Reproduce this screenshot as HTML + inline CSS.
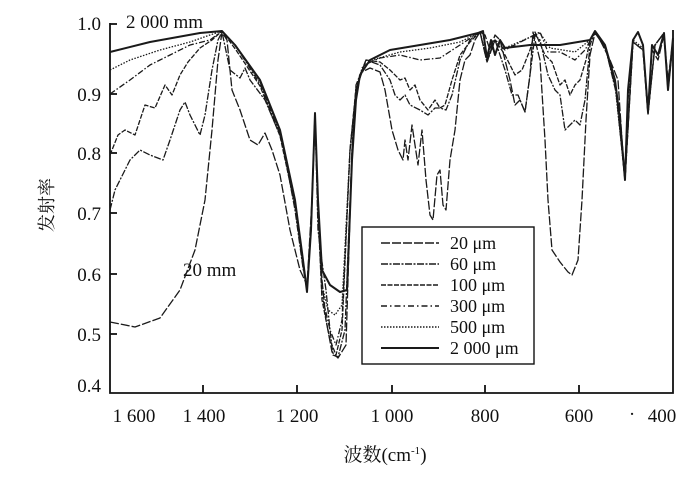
<!DOCTYPE html>
<html><head><meta charset="utf-8"><style>
html,body{margin:0;padding:0;background:#fff;}
svg{display:block;}
text{font-family:"Liberation Serif","Noto Serif CJK SC",serif;fill:#111;}
</style></head><body>
<svg width="700" height="481" viewBox="0 0 700 481" xmlns="http://www.w3.org/2000/svg">
<g stroke="#111" stroke-width="1.8" fill="none">
<polyline points="110,23 110,393 673,393 673,30"/>
<line x1="110" y1="24" x2="117" y2="24"/><line x1="110" y1="94" x2="117" y2="94"/>
<line x1="110" y1="153" x2="117" y2="153"/><line x1="110" y1="213" x2="117" y2="213"/>
<line x1="110" y1="274" x2="117" y2="274"/><line x1="110" y1="334" x2="117" y2="334"/>
<line x1="203" y1="393" x2="203" y2="385"/><line x1="297" y1="393" x2="297" y2="385"/>
<line x1="392" y1="393" x2="392" y2="385"/><line x1="485" y1="393" x2="485" y2="385"/>
<line x1="579" y1="393" x2="579" y2="385"/>
</g>
<g font-size="19" text-anchor="end">
<text x="101" y="30">1.0</text><text x="101" y="101">0.9</text><text x="101" y="160">0.8</text>
<text x="101" y="220">0.7</text><text x="101" y="281">0.6</text><text x="101" y="341">0.5</text>
<text x="101" y="392">0.4</text>
</g>
<g font-size="19" text-anchor="middle">
<text x="134" y="422">1 600</text><text x="204" y="422">1 400</text><text x="297" y="422">1 200</text>
<text x="392" y="422">1 000</text><text x="485" y="422">800</text><text x="579" y="422">600</text>
<text x="662" y="422">400</text><text x="632" y="420">·</text>
</g>
<text x="126" y="28" font-size="19">2 000 mm</text>
<text x="183" y="276" font-size="19">20 mm</text>
<text x="385" y="461" font-size="19" text-anchor="middle">波数(cm<tspan dy="-7" font-size="11">-1</tspan><tspan dy="7">)</tspan></text>
<text transform="translate(53,205) rotate(-90)" font-size="18" text-anchor="middle" font-family="Noto Sans CJK SC, sans-serif">发射率</text>

<g fill="none" stroke="#1a1a1a" stroke-width="1.3" stroke-linejoin="round">
<polyline stroke-width="2" points="110,52 150,42 200,33 222,31 235,45 260,80 280,130 295,200 303,260 307,292 311,230 315,113 318,200 322,270 330,285 340,292 347,290 352,160 356,100 360,75 370,60 390,50 450,40 478,33 483,31 487,58 491,40 495,55 500,40 505,48 530,45 560,45 590,40 595,31 605,45 615,80 620,120 625,180 628,90 633,40 638,32 643,45 648,112 652,45 658,55 664,33 668,90 673,38"/>
<polyline stroke-dasharray="1.5,1.5" points="110,70 130,60 160,50 190,42 210,35 222,31 236,46 260,82 280,132 295,202 303,262 307,288 311,230 315,115 318,205 322,285 328,310 335,315 342,305 350,150 356,92 362,68 372,60 400,52 430,48 460,42 480,32 487,60 495,40 505,48 540,33 550,48 575,52 590,40 595,32 605,47 615,85 625,178 633,40 643,48 648,112 655,45 664,33 668,90 673,40"/>
<polyline stroke-dasharray="6,2,1.5,2" points="110,94 130,80 150,65 170,55 190,45 210,40 222,31 237,48 260,84 280,134 295,204 303,264 307,290 311,230 315,114 318,210 322,295 330,330 336,345 342,320 350,150 356,90 364,65 380,58 400,55 420,60 440,58 460,45 480,32 487,62 495,40 505,50 540,32 548,52 560,52 575,60 585,50 595,32 606,48 616,88 625,180 633,42 643,50 648,114 655,45 664,33 668,90 673,40"/>
<polyline stroke-dasharray="5,1.5" points="110,155 118,135 125,130 135,135 145,105 155,108 165,85 172,95 180,75 188,62 200,48 212,40 222,31 236,50 260,86 280,136 295,206 303,266 307,290 311,230 315,115 318,212 322,300 330,340 336,355 342,330 350,150 356,88 366,60 380,62 390,70 400,80 405,78 410,90 415,85 420,100 428,110 435,100 440,108 445,105 452,80 460,55 470,42 480,32 487,60 495,40 505,55 515,75 522,70 530,50 535,32 545,55 552,62 560,85 565,80 570,95 575,85 580,80 586,60 590,40 595,32 606,50 616,90 625,180 633,42 643,50 648,114 655,45 664,33 668,90 673,40"/>
<polyline stroke-dasharray="7,1.5,2,1.5" points="110,210 115,190 120,180 125,170 130,160 140,150 150,155 163,160 170,140 180,110 185,102 190,115 200,135 205,115 212,70 218,40 222,32 230,70 240,78 245,68 250,80 265,100 282,140 295,210 303,268 307,288 311,230 315,114 318,230 322,262 326,290 330,330 333,355 338,357 345,330 352,150 356,85 366,60 380,65 390,80 395,95 400,100 405,95 410,105 420,110 428,115 435,108 440,108 446,110 452,95 460,60 470,40 480,32 487,62 495,40 505,70 512,95 518,95 525,112 530,75 535,35 540,40 548,75 555,90 560,95 565,130 570,125 575,120 580,125 585,100 590,45 595,32 606,50 616,92 625,180 633,42 643,50 648,114 655,45 664,33 668,90 673,40"/>
<polyline stroke-dasharray="9,2" points="110,322 135,327 160,318 180,290 195,250 205,200 212,130 218,60 222,32 227,40 232,90 240,110 250,140 258,145 265,133 272,150 280,175 290,230 300,270 307,285 312,200 315,115 318,200 322,280 326,320 332,352 338,358 346,345 352,150 356,90 362,72 370,68 380,72 385,90 392,130 398,150 403,160 405,140 408,160 412,125 418,165 422,130 426,180 430,215 433,220 437,175 440,170 443,205 446,210 450,160 455,130 460,80 465,60 470,55 475,40 480,32 485,35 490,50 495,35 500,40 505,60 510,80 515,105 520,100 525,112 530,75 533,32 540,60 545,140 548,200 552,250 560,262 568,272 572,275 578,260 582,200 586,120 590,55 595,33 600,40 610,60 618,80 622,140 625,180 628,100 633,40 638,32 643,45 648,110 652,50 658,60 664,35 668,80 673,40"/>
</g>

<rect x="362" y="227" width="172" height="137" fill="#fff" stroke="#111" stroke-width="1.4"/>
<g stroke="#1a1a1a" stroke-width="1.4">
<line x1="381" y1="243" x2="439" y2="243" stroke-dasharray="9,2"/>
<line x1="381" y1="264" x2="439" y2="264" stroke-dasharray="7,1.5,2,1.5"/>
<line x1="381" y1="285" x2="439" y2="285" stroke-dasharray="5,1.5"/>
<line x1="381" y1="306" x2="439" y2="306" stroke-dasharray="6,3,1.5,3"/>
<line x1="381" y1="327" x2="439" y2="327" stroke-dasharray="1.5,1.5"/>
<line x1="381" y1="348" x2="439" y2="348" stroke-width="2"/>
</g>
<g font-size="18">
<text x="450" y="249">20 μm</text><text x="450" y="270">60 μm</text><text x="450" y="291">100 μm</text>
<text x="450" y="312">300 μm</text><text x="450" y="333">500 μm</text><text x="450" y="354">2 000 μm</text>
</g>
</svg>
</body></html>
